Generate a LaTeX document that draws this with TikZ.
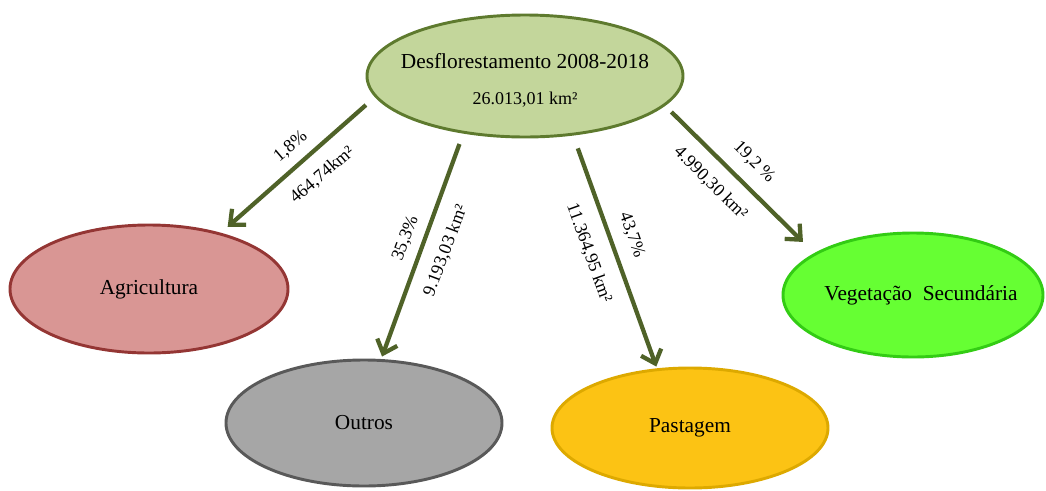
\documentclass[tikz,border=0pt]{standalone}
\usepackage{fontspec}
\setmainfont{Liberation Serif}
\usetikzlibrary{shapes.geometric,arrows.meta}
\definecolor{arrowgreen}{HTML}{4F6228}
\definecolor{topfill}{HTML}{C3D69B}
\definecolor{topline}{HTML}{5E7A2E}
\definecolor{agrifill}{HTML}{D99694}
\definecolor{agriline}{HTML}{943634}
\definecolor{outfill}{HTML}{A6A6A6}
\definecolor{outline}{HTML}{595959}
\definecolor{pastfill}{HTML}{FCC314}
\definecolor{pastline}{HTML}{DDA900}
\definecolor{vegfill}{HTML}{66FF33}
\definecolor{vegline}{HTML}{33CC14}
\newcommand{\zw}[1]{\makebox[0pt]{#1}}
\begin{document}
\begin{tikzpicture}[x=0.75pt,y=0.75pt,yscale=-1,xscale=1,
  blob/.style={ellipse,line width=2.2pt,inner sep=0pt,font=\fontsize{16}{19}\selectfont},
  flow/.style={draw=arrowgreen,line width=3.2pt,-{Straight Barb[length=9pt,width=16pt]}},
  lbl/.style={inner sep=0.75pt,font=\fontsize{13.5}{16}\selectfont}]
\useasboundingbox (0,0) rectangle (1046,490);
% Ellipses
\draw (525,76) node [blob,fill=topfill,draw=topline,minimum width=237pt,minimum height=91.5pt,align=center] (desf) {\zw{\rule{0pt}{18pt}Desflorestamento 2008-2018}\\[8pt]\zw{\fontsize{13.5}{15}\selectfont 26.013,01 km²}};
\draw (149,289) node [blob,fill=agrifill,draw=agriline,minimum width=208.5pt,minimum height=96pt] (agri) {\zw{Agricultura}};
\draw (364,423) node [blob,fill=outfill,draw=outline,minimum width=207pt,minimum height=94.5pt] (outros) {\zw{Outros}};
\draw (690,428) node [blob,fill=pastfill,draw=pastline,minimum width=207pt,minimum height=90pt] (past) {\zw{Pastagem}};
\draw (913,295) node [blob,fill=vegfill,draw=vegline,minimum width=195pt,minimum height=93pt] (veg) {\zw{\hspace*{12pt}Vegetação\ \ Secundária}};
% Arrows
\draw[flow,shorten <=9pt,shorten >=6.7pt] (desf.188.9) -- (agri.38.2);
\draw[flow,shorten <=8.3pt,shorten >=2pt] (desf.223.8) -- (outros.75.9);
\draw[flow,shorten <=10.2pt,shorten >=1.4pt] (desf.309.2) -- (past.119.9);
\draw[flow,shorten <=6.6pt,shorten >=11.9pt] (desf.348.9) -- (veg.157.4);
% Text Node
\draw (290.7,146.7) node [lbl,rotate=40.2] (pagri) {1,8\%};
% Text Node
\draw (322.3,175) node [lbl,rotate=40.2] (kagri) {464,74km²};
% Text Node
\draw (405.7,238.3) node [lbl,rotate=69.3] (pout) {35,3\%};
% Text Node
\draw (445.7,250.7) node [lbl,rotate=69.3] (kout) {9.193,03 km²};
% Text Node
\draw (631.7,235) node [lbl,rotate=-70.3] (ppast) {43,7\%};
% Text Node
\draw (589,253.3) node [lbl,rotate=-70.3] (kpast) {11.364,95 km²};
% Text Node
\draw (754,162.3) node [lbl,rotate=-45.2] (pveg) {19,2 \%};
% Text Node
\draw (710.7,183.3) node [lbl,rotate=-45.2] (kveg) {4.990,30 km²};
\end{tikzpicture}
\end{document}
